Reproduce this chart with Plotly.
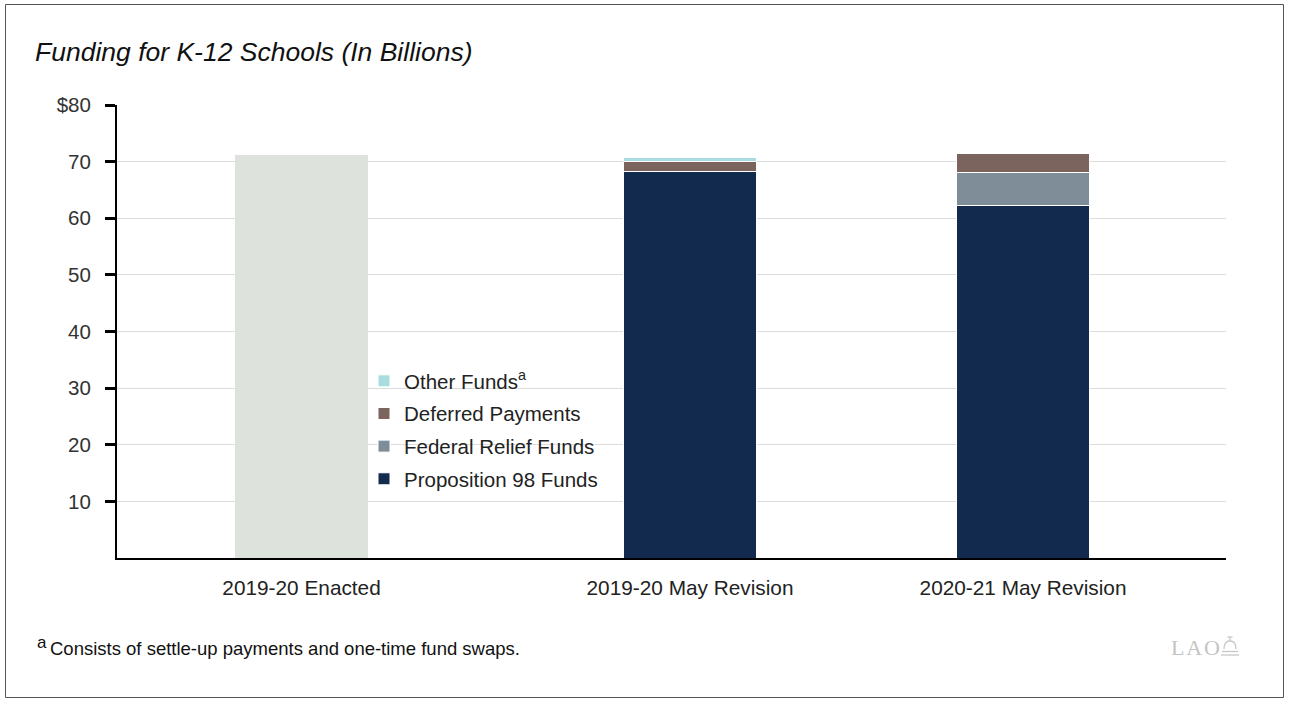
import plotly.graph_objects as go

# ---- data ----
categories = ["2019-20 Enacted", "2019-20 May Revision", "2020-21 May Revision"]
enacted_total = [71.1]
prop98_funds = [68.3, 62.2]
federal_relief = [0.0, 5.9]
deferred_payments = [1.75, 3.4]
other_funds = [0.7, 0.0]
y_tickvals = [10, 20, 30, 40, 50, 60, 70, 80]
y_ticktext = ["10", "20", "30", "40", "50", "60", "70", "$80"]

# ---- layout positions (axis units) ----
x_pos = [1.664, 5.167, 8.17]
bar_w = 1.2

W, H = 1289, 702
ML, MR, MT, MB = 117, 63, 105, 144
PW, PH = W - ML - MR, H - MT - MB

def px_x(p):
    return (p - ML) / PW

def px_y(p):
    return (H - MB - p) / PH

FONT = "Liberation Sans, Arial, Helvetica, sans-serif"
line_w = dict(color="white", width=1)

fig = go.Figure()
fig.add_trace(go.Bar(x=[x_pos[0]], y=enacted_total, width=bar_w,
                     marker=dict(color="#dde2dc", line=dict(width=0)),
                     showlegend=False, hoverinfo="skip"))
series = [
    ("Proposition 98 Funds", prop98_funds, "#122a4e", 4),
    ("Federal Relief Funds", federal_relief, "#7f8d98", 3),
    ("Deferred Payments", deferred_payments, "#7a645d", 2),
    ("Other Funds<sup>a</sup>", other_funds, "#a8dcde", 1),
]
for name, vals, col, rank in series:
    fig.add_trace(go.Bar(x=x_pos[1:], y=vals, width=bar_w, name=name,
                         legendgroup=name, legendrank=rank,
                         marker=dict(color=col, line=line_w)))

# small dome logo next to "LAO" (pixel coords -> paper)
def P(x, y):
    return f"{px_x(x):.5f},{px_y(y):.5f}"

logo_col = "#c8c8c8"
logo_paths = [
    f"M{P(1221,655)} L{P(1239,655)}",
    f"M{P(1222,651.5)} L{P(1238,651.5)}",
    f"M{P(1224,649)} Q{P(1224,641)} {P(1230,641)} Q{P(1236,641)} {P(1236,649)}",
    f"M{P(1230,641)} L{P(1230,637)}",
    f"M{P(1227.5,637)} L{P(1232.5,637)}",
]
shapes = [dict(type="path", xref="paper", yref="paper", path=p,
               line=dict(color=logo_col, width=1.3)) for p in logo_paths]
shapes.append(dict(type="rect", xref="paper", yref="paper",
                   x0=px_x(5.5), x1=px_x(1283.5), y0=px_y(4.5), y1=px_y(697.5),
                   line=dict(color="#555", width=1), fillcolor="rgba(0,0,0,0)",
                   layer="below"))

fig.update_layout(
    width=W, height=H,
    margin=dict(l=ML, r=MR, t=MT, b=MB),
    barmode="stack",
    plot_bgcolor="white", paper_bgcolor="white",
    font=dict(family=FONT, color="#222"),
    showlegend=True,
    legend=dict(x=px_x(364), y=px_y(361), xanchor="left", yanchor="top",
                traceorder="grouped", tracegroupgap=3,
                font=dict(size=20.5, color="#222"), itemwidth=30,
                bgcolor="rgba(0,0,0,0)"),
    xaxis=dict(range=[0, 10], tickvals=x_pos, ticktext=categories,
               showgrid=False, zeroline=False,
               showline=True, linecolor="black", linewidth=2,
               ticks="outside", ticklen=10, tickcolor="rgba(0,0,0,0)",
               tickfont=dict(size=20.8, color="#222")),
    yaxis=dict(range=[0, 80], tickvals=y_tickvals, ticktext=y_ticktext,
               showgrid=True, gridcolor="#dcdcdc", gridwidth=1,
               zeroline=False, showline=True, linecolor="black", linewidth=2,
               ticks="outside", ticklen=10, tickwidth=3, tickcolor="black",
               ticklabelstandoff=10,
               tickfont=dict(size=20.5, color="#333")),
    annotations=[
        dict(text="<i>Funding for K-12 Schools (In Billions)</i>",
             x=px_x(33), y=px_y(52), xref="paper", yref="paper",
             xanchor="left", yanchor="middle", showarrow=False,
             font=dict(size=26.5, color="#111", family=FONT)),
        dict(text="a", x=px_x(34.5), y=px_y(642), xref="paper", yref="paper",
             xanchor="left", yanchor="middle", showarrow=False,
             font=dict(size=17, color="#111", family=FONT)),
        dict(text="Consists of settle-up payments and one-time fund swaps.",
             x=px_x(48), y=px_y(648), xref="paper", yref="paper",
             xanchor="left", yanchor="middle", showarrow=False,
             font=dict(size=18.5, color="#111", family=FONT)),
        dict(text="L\u200aA\u200aO", x=px_x(1222), y=px_y(647), xref="paper", yref="paper",
             xanchor="right", yanchor="middle", showarrow=False,
             font=dict(size=22, color="#c4c4c4", family="Liberation Serif, serif")),
    ],
    shapes=shapes,
)

fig.write_html("out.html", config={"displayModeBar": False})

# remove default page margin so the figure sits at the window's origin
with open("out.html", "r", encoding="utf-8") as f:
    html = f.read()
html = html.replace("<body>", "<body style=\"margin:0;overflow:hidden\">", 1)
with open("out.html", "w", encoding="utf-8") as f:
    f.write(html)
